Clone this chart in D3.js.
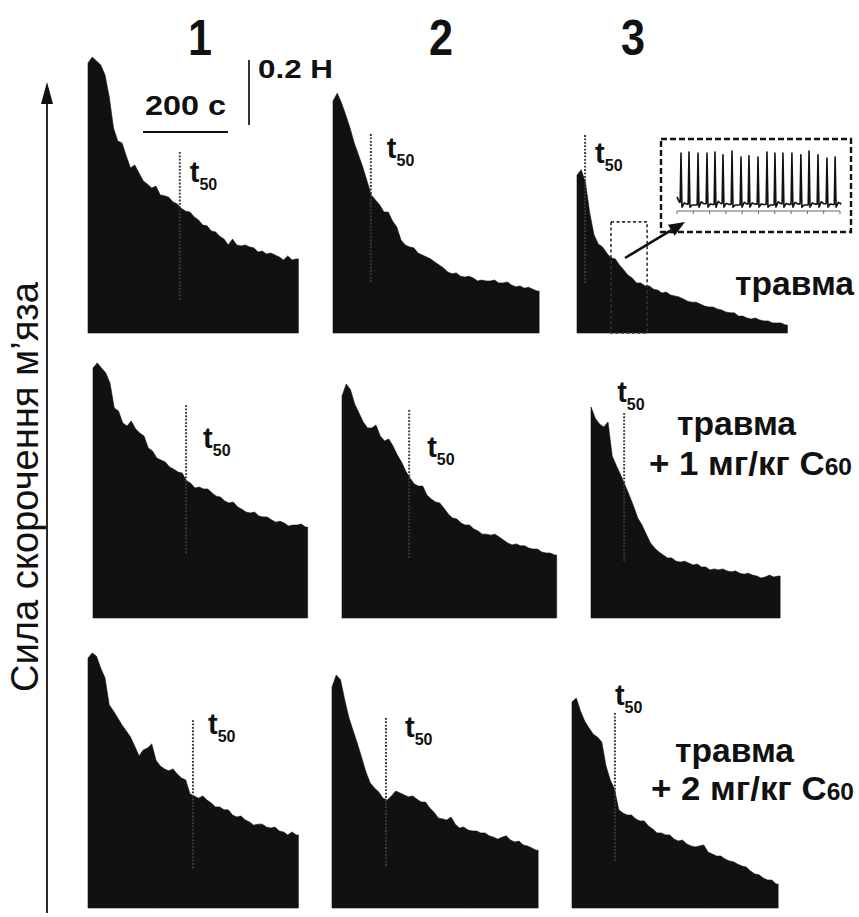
<!DOCTYPE html>
<html><head><meta charset="utf-8">
<script src="https://cdn.jsdelivr.net/npm/d3@7"></script>
<style>
html,body{margin:0;padding:0;background:#fff;}
svg{display:block;}
text{font-family:"Liberation Sans", Arial, sans-serif; fill:#111;}
</style>
</head><body>
<svg id="fig" width="859" height="917"></svg>
<script>
// ================= DATA =================
const SAMPLE_STEP_S = 10;                 // one force value every 10 s
const columnLabels = ["1", "2", "3"];
const groupLabel = "травма";
const doseLabels = [null, "+ 1 мг/кг C", "+ 2 мг/кг C"];
const fullereneIndex = "60";
const axisTitle = "Сила скорочення м’яза";
const scaleBarTimeS = 200, scaleBarTimeLabel = "200 с";
const scaleBarForceN = 0.2, scaleBarForceLabel = "0.2 Н";

// force (N) of fatigue curves, row "травма"
const forceTrauma1 = [.831,.849,.837,.825,.794,.726,.631,.591,.585,.545,.508,.517,.492,.468,.458,.446,.452,.425,.422,.418,.403,.397,.383,.375,.372,.357,.348,.332,.330,.314,.311,.298,.289,.271,.289,.271,.268,.271,.265,.262,.249,.252,.243,.246,.240,.234,.225,.237,.225,.228];
const forceTrauma2 = [.714,.738,.708,.671,.631,.585,.548,.511,.468,.425,.409,.394,.372,.372,.345,.326,.286,.271,.265,.262,.246,.240,.234,.228,.218,.209,.200,.188,.182,.185,.175,.172,.175,.169,.160,.163,.160,.160,.163,.154,.154,.157,.148,.142,.145,.138,.141,.135,.129];
const forceTrauma3 = [.486,.502,.462,.369,.302,.274,.265,.246,.231,.228,.209,.194,.178,.169,.154,.154,.145,.145,.135,.132,.123,.126,.117,.114,.111,.105,.098,.095,.095,.089,.083,.080,.080,.074,.071,.065,.062,.062,.052,.052,.046,.043,.046,.040,.037,.037,.031,.031,.031,.025];
// row "травма + 1 мг/кг C60"
const forceDose1_1 = [.769,.785,.769,.754,.723,.646,.637,.600,.591,.606,.582,.569,.560,.523,.514,.492,.486,.480,.465,.458,.449,.446,.422,.415,.400,.403,.397,.397,.385,.375,.372,.360,.354,.357,.342,.335,.326,.323,.326,.314,.311,.311,.302,.295,.298,.292,.283,.286,.286,.289,.280];
const forceDose1_2 = [.683,.720,.702,.658,.631,.603,.585,.585,.594,.560,.545,.551,.529,.502,.480,.452,.431,.412,.406,.406,.378,.366,.357,.354,.338,.320,.308,.305,.292,.286,.286,.274,.268,.258,.258,.255,.258,.249,.240,.231,.225,.228,.222,.222,.215,.212,.212,.203,.200,.200,.194];
const forceDose1_3 = [.649,.615,.597,.588,.603,.498,.468,.440,.409,.378,.345,.308,.286,.258,.231,.215,.203,.194,.185,.185,.175,.172,.175,.169,.163,.166,.157,.157,.148,.151,.148,.151,.145,.142,.145,.138,.135,.138,.132,.129,.123,.126,.132,.126,.129];
// row "травма + 2 мг/кг C60"
const forceDose2_1 = [.769,.785,.775,.738,.708,.625,.606,.585,.563,.545,.526,.498,.468,.486,.492,.505,.455,.437,.428,.422,.428,.412,.400,.394,.351,.345,.338,.345,.332,.323,.311,.311,.302,.302,.286,.280,.283,.271,.265,.255,.258,.258,.249,.246,.249,.237,.234,.225,.234,.225];
const forceDose2_2 = [.680,.717,.702,.640,.585,.545,.505,.462,.418,.385,.369,.357,.338,.332,.345,.360,.354,.348,.342,.345,.335,.326,.326,.308,.295,.277,.274,.271,.280,.258,.246,.249,.240,.237,.237,.231,.231,.222,.218,.212,.218,.222,.209,.203,.206,.194,.191,.185,.178];
const forceDose2_3 = [.634,.646,.606,.575,.554,.535,.526,.511,.437,.394,.366,.302,.292,.286,.286,.274,.268,.268,.252,.243,.231,.231,.225,.225,.212,.206,.209,.197,.191,.188,.191,.194,.172,.166,.160,.160,.151,.145,.142,.135,.129,.126,.114,.105,.102,.092,.086,.086,.074];

// t50 marker: time (s) and top of the dotted marker (N)
const t50Trauma = [216, 89, 19],  t50TopTrauma = [0.557, 0.612, 0.609];
const t50Dose1  = [219, 158, 78], t50TopDose1  = [0.655, 0.640, 0.631];
const t50Dose2  = [247, 127, 101],t50TopDose2  = [0.578, 0.585, 0.600];
const t50MarkerSpanN = 0.46;

// magnified window in the "травма", column 3 record
const insetWindowS = [80, 165], insetWindowTopN = 0.342;
// single twitches shown in the inset: time (s), relative amplitude, resting level
const insetSpikeT = [0.49,1.47,2.58,3.68,4.66,5.64,6.75,7.85,8.83,9.94,11.04,12.02,13.0,14.1,15.2,16.2,17.3,18.4,19.4];
const insetSpikeA = [0.96,0.98,0.96,0.96,0.98,0.93,1.0,0.89,0.91,0.89,0.98,0.96,0.96,0.96,0.93,1.0,0.93,0.87,0.89];
const insetRest   = [0.04,0.0,0.06,0.02,0.07,0.03,0.0,0.05,0.04,0.02,0.0,0.06,0.03,0.05,0.0,0.04,0.06,0.02,0.05];
const insetTicksS = [0,2,4,6,8,10,12,14,16,18,20];

// ================= LAYOUT =================
const PX_PER_S = 0.425, PX_PER_N = 325;
const rows = [
  {forces:[forceTrauma1,forceTrauma2,forceTrauma3], t50:t50Trauma, top:t50TopTrauma, bottom:333, x0:[88,333,577],
   lab:[[10,30],[16,24],[10,28]]},
  {forces:[forceDose1_1,forceDose1_2,forceDose1_3], t50:t50Dose1, top:t50TopDose1, bottom:618, x0:[93,342,591],
   lab:[[17,43],[18,47],[-7,-11]]},
  {forces:[forceDose2_1,forceDose2_2,forceDose2_3], t50:t50Dose2, top:t50TopDose2, bottom:908, x0:[88,332,572],
   lab:[[15,14],[19,19],[0,-8]]}
];
const INK = "#111";
const svg = d3.select("#fig");
svg.append("rect").attr("width",859).attr("height",917).attr("fill","#fff");

const panelScales = [];
rows.forEach((row, r) => {
  panelScales.push([]);
  row.forces.forEach((vals, c) => {
    const x0 = row.x0[c];
    const xs = d3.scaleLinear().domain([0, 1000]).range([x0, x0 + 1000*PX_PER_S]);
    const ys = d3.scaleLinear().domain([0, 1]).range([row.bottom, row.bottom - PX_PER_N]);
    panelScales[r].push({xs, ys});
    const pts = vals.map((v,i) => ({t:i*SAMPLE_STEP_S, f:v}));
    pts.push({t:(vals.length-0.5)*SAMPLE_STEP_S, f:vals[vals.length-1]});
    const area = d3.area().x(d => xs(d.t)).y0(ys(0)).y1(d => ys(d.f)).curve(d3.curveLinear);
    svg.append("path").attr("d", area(pts)).attr("fill", INK)
      .attr("stroke", INK).attr("stroke-width", 0.6).attr("stroke-linejoin","miter");

    // t50 dotted marker
    const tx = xs(row.t50[c]);
    const yTop = ys(row.top[c]), yBot = ys(row.top[c] - t50MarkerSpanN);
    svg.append("line").attr("x1",tx).attr("x2",tx).attr("y1",yTop).attr("y2",yBot)
      .attr("stroke","#3a3a3a").attr("stroke-width",2).attr("stroke-dasharray","1.8,1.6");
    const lab = svg.append("text").attr("x", tx + row.lab[c][0]).attr("y", yTop + row.lab[c][1])
      .attr("font-weight","bold");
    lab.append("tspan").attr("font-size",29).text("t");
    lab.append("tspan").attr("font-size",16).attr("dy",8).text("50");
  });
});

// column headers
const headerX = [200, 441, 633];
columnLabels.forEach((s,i) => {
  svg.append("text").attr("x",headerX[i]).attr("y",55).attr("text-anchor","middle")
    .attr("font-size",50).attr("font-weight","bold")
    .attr("textLength",24).attr("lengthAdjust","spacingAndGlyphs").text(s);
});

// group labels
const labelRows = [
  {g:[735,295], d:null},
  {g:[677,435], d:[649,475]},
  {g:[675,762], d:[651,800]}
];
labelRows.forEach((L, r) => {
  svg.append("text").attr("x",L.g[0]).attr("y",L.g[1]).attr("font-size",34).attr("font-weight","bold")
    .attr("textLength",119).attr("lengthAdjust","spacingAndGlyphs").text(groupLabel);
  if (L.d) {
    const t = svg.append("text").attr("x",L.d[0]).attr("y",L.d[1]).attr("font-size",34).attr("font-weight","bold")
      .attr("textLength",203).attr("lengthAdjust","spacingAndGlyphs");
    t.append("tspan").text(doseLabels[r]);
    t.append("tspan").attr("font-size",24).text(fullereneIndex);
  }
});

// scale bars
const barX0 = 143, barY = 132;
svg.append("line").attr("x1",barX0).attr("x2",barX0 + scaleBarTimeS*PX_PER_S).attr("y1",barY).attr("y2",barY)
  .attr("stroke",INK).attr("stroke-width",2.2);
svg.append("text").attr("x",145).attr("y",115).attr("font-size",28).attr("font-weight","bold")
  .attr("textLength",81).attr("lengthAdjust","spacingAndGlyphs").text(scaleBarTimeLabel);
const vbX = 249, vbBottom = 125;
svg.append("line").attr("x1",vbX).attr("x2",vbX).attr("y1",vbBottom).attr("y2",vbBottom - scaleBarForceN*PX_PER_N)
  .attr("stroke","#333").attr("stroke-width",2);
svg.append("text").attr("x",258).attr("y",78).attr("font-size",26).attr("font-weight","bold")
  .attr("textLength",75).attr("lengthAdjust","spacingAndGlyphs").text(scaleBarForceLabel);

// vertical axis arrow + title
svg.append("line").attr("x1",47).attr("x2",47).attr("y1",913).attr("y2",100).attr("stroke",INK).attr("stroke-width",1.8);
svg.append("path").attr("d","M47,82 L41,104 L53,104 Z").attr("fill",INK);
svg.append("text").attr("transform","translate(38,487) rotate(-90)").attr("text-anchor","middle")
  .attr("font-size",38).attr("textLength",410).attr("lengthAdjust","spacingAndGlyphs").text(axisTitle);

// magnified window in panel (травма, 3)
const p13 = panelScales[0][2];
svg.append("rect").attr("x",p13.xs(insetWindowS[0])).attr("y",p13.ys(insetWindowTopN))
  .attr("width",p13.xs(insetWindowS[1]) - p13.xs(insetWindowS[0]))
  .attr("height",p13.ys(0) - p13.ys(insetWindowTopN))
  .attr("fill","none").attr("stroke","#333").attr("stroke-width",1.6).attr("stroke-dasharray","3,2.5");

// inset box
svg.append("rect").attr("x",661).attr("y",139).attr("width",190).attr("height",93)
  .attr("fill","#fff").attr("stroke",INK).attr("stroke-width",2.4).attr("stroke-dasharray","6,3");
const ix = d3.scaleLinear().domain([0,20]).range([677,840]);
const iy = d3.scaleLinear().domain([0,1]).range([205,151]);
svg.append("line").attr("x1",ix(0)).attr("x2",ix(20)).attr("y1",211).attr("y2",211).attr("stroke","#666").attr("stroke-width",1.2);
insetTicksS.forEach(t => svg.append("line").attr("x1",ix(t)).attr("x2",ix(t)).attr("y1",211).attr("y2",214).attr("stroke","#666").attr("stroke-width",1));
const ipts = [[0,0.15],[0.3,0.05]];
let prev = 0.05;
insetSpikeT.forEach((t,i) => {
  ipts.push([t-0.1, prev],[t, insetSpikeA[i]],[t+0.12,-0.04],[t+0.4,insetRest[i]],[t+0.7,insetRest[i]*0.4]);
  prev = insetRest[i]*0.4;
});
ipts.push([20, 0.04]);
svg.append("path").attr("d", d3.line().x(d=>ix(d[0])).y(d=>iy(d[1]))(ipts))
  .attr("fill","none").attr("stroke",INK).attr("stroke-width",1.6).attr("stroke-linejoin","round");

// arrow to inset (drawn over the box edge)
const a0 = [625,258], a1 = [685,222];
const ux = (a1[0]-a0[0]), uy = (a1[1]-a0[1]), L = Math.hypot(ux,uy);
const u = [ux/L, uy/L], n = [-u[1], u[0]];
const hb = [a1[0]-u[0]*16, a1[1]-u[1]*16];
svg.append("line").attr("x1",a0[0]).attr("y1",a0[1]).attr("x2",hb[0]).attr("y2",hb[1]).attr("stroke",INK).attr("stroke-width",2.6);
svg.append("path").attr("d",`M${a1[0]},${a1[1]} L${hb[0]+n[0]*6.5},${hb[1]+n[1]*6.5} L${hb[0]-n[0]*6.5},${hb[1]-n[1]*6.5} Z`).attr("fill",INK);
</script>
</body></html>
